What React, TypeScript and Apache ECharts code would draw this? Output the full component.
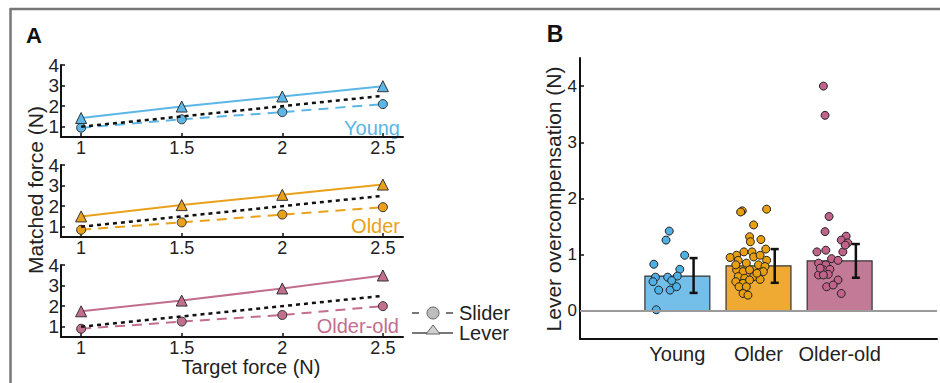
import React, { useEffect, useRef } from "react";
import * as echarts from "echarts";

// ---------- Panel A data ----------
const targetForce = [1, 1.5, 2, 2.5];
const groups = ["Young", "Older", "Older-old"];
const youngLever = [1.42, 1.98, 2.47, 2.97];
const youngSlider = [0.95, 1.36, 1.71, 2.1];
const olderLever = [1.5, 2.05, 2.55, 3.05];
const olderSlider = [0.85, 1.21, 1.59, 1.95];
const oldOldLever = [1.75, 2.27, 2.86, 3.49];
const oldOldSlider = [0.9, 1.25, 1.57, 2.0];
const forceTicksX = [1, 1.5, 2, 2.5];
const forceTicksY = [1, 2, 3, 4];

// ---------- Panel B data ----------
const groupPos = [1, 2, 3];
const barMeans = [0.62, 0.8, 0.89];
const errLow = [0.32, 0.5, 0.59];
const errHigh = [0.94, 1.1, 1.19];
const overTicks = [0, 1, 2, 3, 4];

const youngDots = [1.42, 1.26, 0.99, 0.83, 0.74, 0.6, 0.6, 0.62, 0.52, 0.54, 0.37, 0.37, 0.43, 0.02];
const youngJitter = [-0.1, -0.14, 0.09, -0.29, 0.03, -0.27, -0.12, 0.0, -0.3, -0.07, -0.23, -0.09, -0.01, -0.26];

const olderDots = [1.78, 1.76, 1.81, 1.53, 1.32, 1.27, 1.23, 1.1, 1.05, 1.05, 0.99, 0.95, 0.96, 0.99, 0.9, 0.9, 0.85, 0.82, 0.79, 0.73, 0.7, 0.73, 0.7, 0.61, 0.58, 0.61, 0.56, 0.52, 0.49, 0.55, 0.43, 0.43, 0.31, 0.28, 0.82, 0.67];
const olderJitter = [-0.2, -0.22, 0.1, -0.06, -0.11, 0.03, -0.1, 0.09, -0.18, -0.08, -0.27, -0.35, -0.06, 0.02, -0.25, 0.1, -0.15, 0.0, 0.08, -0.27, -0.19, -0.11, 0.06, -0.25, -0.17, -0.06, 0.02, -0.28, -0.19, -0.11, -0.24, -0.15, -0.19, -0.13, -0.28, -0.02];

const oldOldDots = [4.0, 3.48, 1.68, 1.41, 1.33, 1.26, 1.21, 1.08, 1.05, 1.05, 0.93, 0.9, 0.85, 0.82, 0.73, 0.74, 0.64, 0.65, 0.55, 0.43, 0.46, 0.31, 0.64, 0.76, 1.17];
const oldOldJitter = [-0.2, -0.18, -0.13, -0.18, 0.08, 0.02, 0.1, -0.17, 0.04, -0.28, -0.1, -0.02, -0.26, -0.17, -0.2, -0.12, -0.26, -0.14, -0.02, -0.16, -0.08, 0.02, -0.2, -0.24, 0.07];

const lineColors = ["#5cb6e6", "#e9a11c", "#c26e8e"];
const barColors = ["#74bfea", "#eeaa33", "#c27a96"];
const dotColors = ["#4fb0e6", "#e8a010", "#c0628a"];

const FONT = "Liberation Sans, Arial, sans-serif";

export default function App() {
  const ref = useRef<HTMLDivElement>(null);
  useEffect(() => {
    if (!ref.current) return;
    const chart = echarts.init(ref.current, null, { renderer: "svg" });

    const leverSets = [youngLever, olderLever, oldOldLever];
    const sliderSets = [youngSlider, olderSlider, oldOldSlider];
    const dotSets = [youngDots, olderDots, oldOldDots];
    const jitSets = [youngJitter, olderJitter, oldOldJitter];

    const gridTops = [65, 165, 265];
    const grids: any[] = gridTops.map((t) => ({ left: 61, top: t, width: 342, height: 72 }));
    grids.push({ left: 580, top: 58, width: 357, height: 281 });

    const xAxes: any[] = [];
    const yAxes: any[] = [];
    for (let i = 0; i < 3; i++) {
      xAxes.push({
        type: "value", gridIndex: i, min: 0.9, max: 2.6,
        axisLine: { show: true, onZero: false, lineStyle: { color: "#111", width: 2 } },
        axisTick: { show: true, inside: true, length: 4, customValues: forceTicksX, lineStyle: { color: "#111", width: 1.5 } },
        axisLabel: { customValues: forceTicksX, fontSize: 18, lineHeight: 17, color: "#222", fontFamily: FONT, margin: 2 },
        splitLine: { show: false },
      });
      yAxes.push({
        type: "value", gridIndex: i, min: 0.5, max: 4,
        axisLine: { show: true, onZero: false, lineStyle: { color: "#111", width: 2 } },
        axisTick: { show: true, inside: true, length: 4, customValues: forceTicksY, lineStyle: { color: "#111", width: 1.5 } },
        axisLabel: { customValues: forceTicksY, fontSize: 19, color: "#222", fontFamily: FONT, margin: 2 },
        splitLine: { show: false },
      });
    }
    xAxes.push({
      type: "value", gridIndex: 3, min: -0.2, max: 4.2,
      axisLine: { show: true, onZero: false, lineStyle: { color: "#111", width: 2 } },
      axisTick: { show: false },
      axisLabel: {
        customValues: groupPos, fontSize: 20, color: "#222", fontFamily: FONT, margin: 5,
        formatter: (v: number) => groups[Math.round(v) - 1] ?? "",
      },
      splitLine: { show: false },
    });
    yAxes.push({
      type: "value", gridIndex: 3, min: -0.5, max: 4.5,
      axisLine: { show: true, onZero: false, lineStyle: { color: "#111", width: 2 } },
      axisTick: { show: true, inside: true, length: 4, customValues: overTicks, lineStyle: { color: "#111", width: 1.5 } },
      axisLabel: { customValues: overTicks, fontSize: 17, color: "#222", fontFamily: FONT, margin: 3 },
      splitLine: { show: false },
    });

    const series: any[] = [];
    for (let i = 0; i < 3; i++) {
      series.push({
        type: "line", xAxisIndex: i, yAxisIndex: i, z: 2,
        data: targetForce.map((x, j) => [x, sliderSets[i][j]]),
        symbol: "circle", symbolSize: 9,
        lineStyle: { color: lineColors[i], width: 2, type: [10, 7] },
        itemStyle: { color: lineColors[i], borderColor: "#333", borderWidth: 1 },
      });
      series.push({
        type: "line", xAxisIndex: i, yAxisIndex: i, z: 2,
        data: targetForce.map((x, j) => [x, leverSets[i][j]]),
        symbol: "triangle", symbolSize: 11,
        lineStyle: { color: lineColors[i], width: 2 },
        itemStyle: { color: lineColors[i], borderColor: "#333", borderWidth: 1 },
      });
      series.push({
        type: "line", xAxisIndex: i, yAxisIndex: i, z: 3,
        data: [targetForce[0], targetForce[targetForce.length - 1]].map((x) => [x, x]),
        symbol: "none",
        lineStyle: { color: "#111", width: 2.5, type: [4, 4] },
      });
    }

    // Panel B bars
    series.push({
      type: "custom", xAxisIndex: 3, yAxisIndex: 3, z: 1,
      data: groupPos.map((x, j) => [x, barMeans[j], j]),
      renderItem: (params: any, api: any) => {
        const x = api.value(0), v = api.value(1), j = api.value(2);
        const p1 = api.coord([x - 0.4, v]);
        const p2 = api.coord([x + 0.4, 0]);
        return {
          type: "rect",
          shape: { x: p1[0], y: p1[1], width: p2[0] - p1[0], height: p2[1] - p1[1] },
          style: { fill: barColors[j], stroke: "#333", lineWidth: 1.2 },
        };
      },
      markLine: {
        silent: true, symbol: "none", label: { show: false },
        lineStyle: { color: "#9a9a9a", width: 2, type: "solid" },
        data: [{ yAxis: 0 }],
      },
    });
    for (let i = 0; i < 3; i++) {
      series.push({
        type: "scatter", xAxisIndex: 3, yAxisIndex: 3, z: 3,
        data: dotSets[i].map((v, j) => [groupPos[i] + jitSets[i][j], v]),
        symbol: "circle", symbolSize: 8,
        itemStyle: { color: dotColors[i], borderColor: "#222", borderWidth: 1, opacity: 1 },
      });
    }
    series.push({
      type: "custom", xAxisIndex: 3, yAxisIndex: 3, z: 4,
      data: groupPos.map((x, j) => [x + 0.2, errLow[j], errHigh[j]]),
      renderItem: (params: any, api: any) => {
        const x = api.value(0);
        const lo = api.coord([x, api.value(1)]);
        const hi = api.coord([x, api.value(2)]);
        const c = 4;
        const st = { stroke: "#111", lineWidth: 2.5 };
        return {
          type: "group",
          children: [
            { type: "line", shape: { x1: lo[0], y1: lo[1], x2: hi[0], y2: hi[1] }, style: st },
            { type: "line", shape: { x1: lo[0] - c, y1: lo[1], x2: lo[0] + c, y2: lo[1] }, style: st },
            { type: "line", shape: { x1: hi[0] - c, y1: hi[1], x2: hi[0] + c, y2: hi[1] }, style: st },
          ],
        };
      },
    });

    const txt = (x: number, y: number, text: string, extra: any = {}, rotation = 0) => ({
      type: "text", x, y, rotation,
      style: { text, fontFamily: FONT, fontSize: 20, fill: "#222", align: "center", verticalAlign: "middle", ...extra },
    });

    const graphic: any[] = [
      { type: "line", shape: { x1: 10, y1: 9, x2: 940, y2: 9 }, style: { stroke: "#777", lineWidth: 2.5 } },
      { type: "line", shape: { x1: 10.5, y1: 8, x2: 10.5, y2: 383 }, style: { stroke: "#777", lineWidth: 2.5 } },
      txt(34, 35, "A", { fontWeight: "bold", fontSize: 22, fill: "#111" }),
      txt(555, 34, "B", { fontWeight: "bold", fontSize: 23, fill: "#111" }),
      txt(35, 190, "Matched force (N)", { fontSize: 21 }, Math.PI / 2),
      txt(251, 367, "Target force (N)", { fontSize: 20, lineHeight: 18 }),
      txt(553, 199, "Lever overcompensation (N)", { fontSize: 21 }, Math.PI / 2),
      txt(400, 128, "Young", { align: "right", fill: lineColors[0] }),
      txt(400, 226, "Older", { align: "right", fill: lineColors[1] }),
      txt(399, 326, "Older-old", { align: "right", fill: lineColors[2] }),
      // legend
      { type: "line", shape: { x1: 412, y1: 313, x2: 419, y2: 313 }, style: { stroke: "#777", lineWidth: 2 } },
      { type: "line", shape: { x1: 446, y1: 313, x2: 453, y2: 313 }, style: { stroke: "#777", lineWidth: 2 } },
      { type: "circle", shape: { cx: 433, cy: 313, r: 6 }, style: { fill: "#bdbdbd", stroke: "#666", lineWidth: 1 } },
      { type: "line", shape: { x1: 412, y1: 333, x2: 453, y2: 333 }, style: { stroke: "#777", lineWidth: 2 } },
      { type: "polygon", shape: { points: [[433, 325], [426, 334], [440, 334]] }, style: { fill: "#d0d0d0", stroke: "#666", lineWidth: 1 } },
      txt(459, 313, "Slider", { align: "left" }),
      txt(459, 333, "Lever", { align: "left" }),
    ];

    chart.setOption({
      animation: false,
      backgroundColor: "#fff",
      grid: grids,
      xAxis: xAxes,
      yAxis: yAxes,
      series,
      graphic,
    });
    return () => chart.dispose();
  }, []);
  return <div ref={ref} style={{ position: "fixed", left: 0, top: 0, width: 940, height: 383 }} />;
}
